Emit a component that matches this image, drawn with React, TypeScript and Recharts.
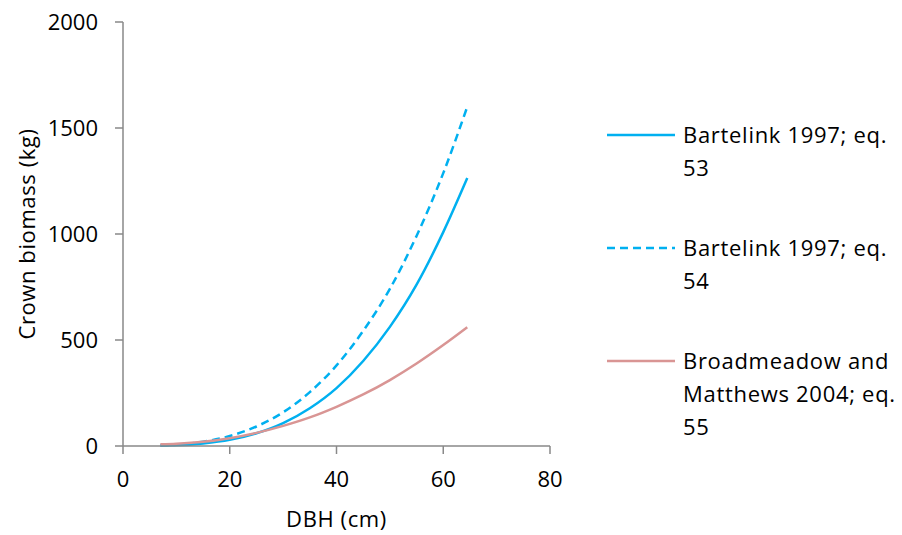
import React from 'react';
import { LineChart, Line, XAxis, YAxis } from 'recharts';

// DBH (cm) sample points along the curves
const dbh = [7, 10, 15, 20, 25, 30, 35, 40, 45, 50, 55, 60, 64.5];

// crown biomass (kg) for each equation
const eq53 = [1, 3, 12, 29, 60, 108, 178, 273, 401, 562, 761, 1009, 1264];
const eq54 = [2, 6, 20, 47, 92, 159, 254, 380, 543, 741, 991, 1287, 1600];
const eq55 = [8, 11, 20, 37, 62, 95, 135, 185, 243, 311, 389, 476, 560];

const xTicks = [0, 20, 40, 60, 80];
const yTicks = [0, 500, 1000, 1500, 2000];

const series = [
  { key: 'eq53', lines: ['Bartelink 1997; eq.', '53'], color: '#00B0F0', dash: undefined },
  { key: 'eq54', lines: ['Bartelink 1997; eq.', '54'], color: '#00B0F0', dash: '8 5' },
  { key: 'eq55', lines: ['Broadmeadow and', 'Matthews 2004; eq.', '55'], color: '#D99594', dash: undefined },
];

const data = dbh.map((d, i) => ({ dbh: d, eq53: eq53[i], eq54: eq54[i], eq55: eq55[i] }));

const FONT = '"Open Sans", sans-serif';
const FS = 22;
const AXIS = '#898989';

const legendTops = [135, 248, 361];

export default function App() {
  return (
    <div style={{ position: 'absolute', left: 0, top: 0, width: 902, height: 535, background: '#fff', fontFamily: FONT }}>
      <LineChart width={902} height={535} data={data} margin={{ top: 22, right: 352, bottom: 0, left: 0 }}>
        <XAxis
          dataKey="dbh"
          type="number"
          domain={[0, 80]}
          ticks={xTicks}
          height={89}
          stroke={AXIS}
          strokeWidth={1.5}
          tickSize={8}
          tickMargin={17}
          tick={{ fill: '#000', fontSize: FS, fontFamily: FONT }}
          label={({ viewBox }: any) => (
            <text x={viewBox.x + viewBox.width / 2} y={527} textAnchor="middle" fill="#000" fontSize={FS} fontFamily={FONT} letterSpacing={0.6}>
              DBH (cm)
            </text>
          )}
        />
        <YAxis
          type="number"
          domain={[0, 2000]}
          ticks={yTicks}
          width={123}
          stroke={AXIS}
          strokeWidth={1.5}
          tickSize={8}
          tickMargin={17}
          tick={{ fill: '#000', fontSize: FS, fontFamily: FONT }}
          label={({ viewBox }: any) => {
            const cy = viewBox.y + viewBox.height / 2;
            return (
              <text x={35} y={cy} transform={`rotate(-90 35 ${cy})`} textAnchor="middle" fill="#000" fontSize={FS} fontFamily={FONT} letterSpacing={0.6}>
                Crown biomass (kg)
              </text>
            );
          }}
        />
        {series.map((s) => (
          <Line
            key={s.key}
            dataKey={s.key}
            type="monotone"
            stroke={s.color}
            strokeWidth={2.5}
            strokeDasharray={s.dash}
            dot={false}
            isAnimationActive={false}
          />
        ))}
      </LineChart>
      {series.map((s, i) => (
        <div key={s.key} style={{ position: 'absolute', left: 607, top: legendTops[i] - 17, display: 'flex' }}>
          <svg width={70} height={34} style={{ flex: 'none' }}>
            <line x1={0} y1={17} x2={68} y2={17} stroke={s.color} strokeWidth={2.5} strokeDasharray={s.dash} />
          </svg>
          <div style={{ marginLeft: 6, fontSize: FS, lineHeight: '33px', letterSpacing: 0.7, color: '#000' }}>
            {s.lines.map((t, j) => (
              <div key={j} style={{ whiteSpace: 'nowrap' }}>{t}</div>
            ))}
          </div>
        </div>
      ))}
    </div>
  );
}
